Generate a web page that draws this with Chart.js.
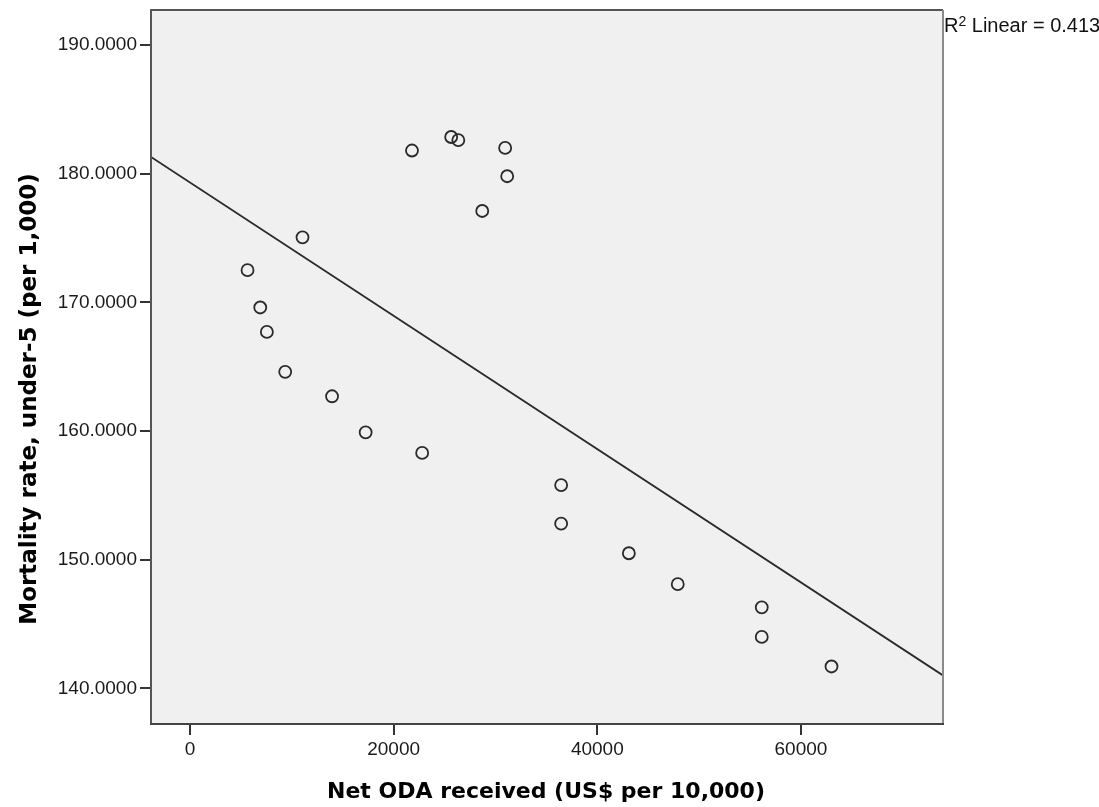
<!DOCTYPE html>
<html>
<head>
<meta charset="utf-8">
<script src="https://cdn.jsdelivr.net/npm/chart.js@4"></script>
<style>
    html, body { margin: 0; padding: 0; background: #fff; }
    #wrap { width: 1099px; height: 807px; position: relative; }
</style>
</head>
<body>
<div id="wrap"><canvas id="chart-scatter-oda"></canvas></div>
<script>
// values
const odaReceived = [21800, 25650, 26350, 30950, 31150, 28700, 11050, 5650, 6900, 7550, 9350, 13950, 17250, 22800, 36450, 36450, 43100, 47900, 56150, 56150, 63000];
const mortalityRate = [181.8, 182.85, 182.6, 182.0, 179.8, 177.1, 175.05, 172.5, 169.6, 167.7, 164.6, 162.7, 159.9, 158.3, 155.8, 152.8, 150.5, 148.1, 146.3, 144.0, 141.7];
const xTicks = [0, 20000, 40000, 60000];
const yTicks = [140, 150, 160, 170, 180, 190];
const xRange = [-3830, 73950];
const yRange = [137.23, 192.72];
const r2Linear = 0.413;

const xTitle = 'Net ODA received (US$ per 10,000)';
const yTitle = 'Mortality rate, under-5 (per 1,000)';

// least squares fit
let n = odaReceived.length;
let mx = odaReceived.reduce((a, b) => a + b, 0) / n;
let my = mortalityRate.reduce((a, b) => a + b, 0) / n;
let sxy = 0, sxx = 0;
for (let i = 0; i < n; i++) {
    sxy += (odaReceived[i] - mx) * (mortalityRate[i] - my);
    sxx += (odaReceived[i] - mx) ** 2;
}
let slope = sxy / sxx;
let intercept = my - slope * mx;
let fitLine = xRange.map(x => ({x: x, y: intercept + slope * x}));

let points = odaReceived.map((x, i) => ({x: x, y: mortalityRate[i]}));

let plotBox = {
    id: 'plotBox',
    beforeDatasetsDraw(chart) {
        let a = chart.chartArea, ctx = chart.ctx;
        ctx.save();
        ctx.fillStyle = '#f0f0f0';
        ctx.fillRect(a.left, a.top, a.right - a.left, a.bottom - a.top);
        ctx.restore();
    },
    afterDraw(chart) {
        let a = chart.chartArea, ctx = chart.ctx;
        ctx.save();
        ctx.lineWidth = 2;
        ctx.strokeStyle = '#555';
        ctx.beginPath();
        ctx.moveTo(a.left, a.bottom);
        ctx.lineTo(a.left, a.top);
        ctx.lineTo(a.right, a.top);
        ctx.stroke();
        ctx.strokeStyle = '#8a8a8a';
        ctx.beginPath();
        ctx.moveTo(a.right, a.top);
        ctx.lineTo(a.right, a.bottom);
        ctx.stroke();
        ctx.strokeStyle = '#444';
        ctx.beginPath();
        ctx.moveTo(a.left - 1, a.bottom);
        ctx.lineTo(a.right + 1, a.bottom);
        ctx.stroke();

        // axis titles
        ctx.fillStyle = '#000';
        ctx.font = 'bold 22px "DejaVu Sans"';
        ctx.textAlign = 'center';
        ctx.textBaseline = 'alphabetic';
        ctx.fillText(xTitle, 546, 798);
        ctx.save();
        ctx.translate(36, 399);
        ctx.rotate(-Math.PI / 2);
        ctx.font = 'bold 23px "DejaVu Sans"';
        ctx.fillText(yTitle, 0, 0);
        ctx.restore();

        // R2 note
        ctx.fillStyle = '#111';
        ctx.textAlign = 'left';
        ctx.font = '20px "Liberation Sans"';
        let x0 = a.right + 1;
        ctx.fillText('R', x0, 32);
        x0 += ctx.measureText('R').width;
        ctx.font = '14px "Liberation Sans"';
        ctx.fillText('2', x0, 26);
        x0 += ctx.measureText('2').width;
        ctx.font = '20px "Liberation Sans"';
        ctx.fillText(' Linear = ' + r2Linear.toFixed(3), x0, 32);
        ctx.restore();
    }
};

new Chart(document.getElementById('chart-scatter-oda').getContext('2d'), {
    type: 'scatter',
    data: {
        datasets: [{
            label: 'Mortality',
            data: points,
            pointStyle: 'circle',
            pointRadius: 6,
            pointBorderWidth: 1.8,
            borderColor: '#2a2a2a',
            backgroundColor: 'rgba(0,0,0,0)',
        }, {
            type: 'line',
            label: 'Linear',
            data: fitLine,
            borderColor: '#2a2a2a',
            borderWidth: 1.8,
            pointRadius: 0,
            fill: false,
        }]
    },
    options: {
        responsive: true,
        maintainAspectRatio: false,
        animation: false,
        layout: {padding: {top: 10, right: 156, bottom: 0, left: 0}},
        plugins: {legend: {display: false}, tooltip: {enabled: false}},
        scales: {
            x: {
                type: 'linear',
                min: xRange[0],
                max: xRange[1],
                afterBuildTicks: s => { s.ticks = xTicks.map(v => ({value: v})); },
                afterFit: s => { s.height = 83; s.paddingLeft = 0; s.paddingRight = 0; },
                grid: {drawOnChartArea: false, tickLength: 11, color: '#333', lineWidth: 2},
                border: {display: false},
                ticks: {
                    color: '#1a1a1a',
                    font: {family: 'Liberation Sans', size: 19},
                    padding: 3,
                    maxRotation: 0,
                    callback: v => String(v),
                },
            },
            y: {
                type: 'linear',
                min: yRange[0],
                max: yRange[1],
                afterBuildTicks: s => { s.ticks = yTicks.map(v => ({value: v})); },
                afterFit: s => { s.width = 151; s.paddingTop = 0; s.paddingBottom = 0; },
                grid: {drawOnChartArea: false, tickLength: 11, color: '#333', lineWidth: 2},
                border: {display: false},
                ticks: {
                    color: '#1a1a1a',
                    font: {family: 'Liberation Sans', size: 19},
                    padding: 3,
                    callback: v => v.toFixed(4),
                },
            },
        },
    },
    plugins: [plotBox],
});
</script>
</body>
</html>
